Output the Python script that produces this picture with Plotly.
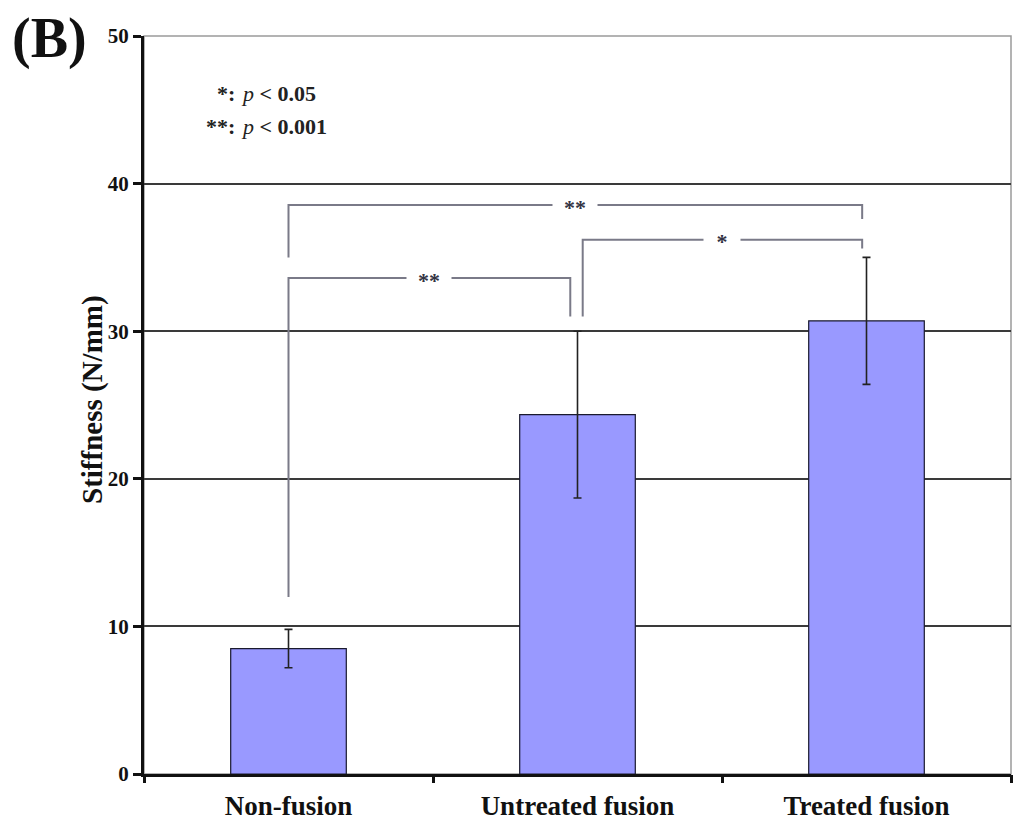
import plotly.graph_objects as go

categories = ["Non-fusion", "Untreated fusion", "Treated fusion"]
means = [8.5, 24.35, 30.7]
errors = [1.3, 5.65, 4.3]
y_ticks = [0, 10, 20, 30, 40, 50]

# significance brackets: (x_left, x_right, y_top, y_left_bottom, y_right_bottom, label)
brackets = [
    (0.0, 0.975, 33.6, 12.0, 31.0, "**"),
    (1.018, 1.985, 36.2, 31.0, 35.6, "*"),
    (0.0, 1.985, 38.55, 35.0, 37.6, "**"),
]

FONT = "Liberation Serif, Times New Roman, serif"
OFF = 8  # page body margin
W, H = 1023 - OFF, 822 - OFF
L, R, T, B = 144 - OFF, 12, 36 - OFF, 48
PW, PH = W - L - R, H - T - B


def px_x(px):  # screenshot pixel -> paper x
    return (px - OFF - L) / PW


def px_y(py):  # screenshot pixel -> paper y
    return (H - B - (py - OFF)) / PH


fig = go.Figure()
fig.add_trace(go.Bar(
    x=list(range(len(categories))), y=means, width=0.4,
    marker=dict(color="#9999FF", line=dict(color="#1a1a2e", width=1.2)),
    error_y=dict(type="data", array=errors, visible=True, color="#222222",
                 thickness=1.6, width=4),
    showlegend=False,
))

shapes = []
shapes.append(dict(type="rect", xref="paper", yref="paper", x0=0, x1=1, y0=0, y1=1,
                   line=dict(color="#9a9a9a", width=1.5), layer="below"))
annotations = []
for (xl, xr, yt, ylb, yrb, lab) in brackets:
    path = f"M {xl},{ylb} L {xl},{yt} L {xr},{yt} L {xr},{yrb}"
    shapes.append(dict(type="path", xref="x", yref="y", path=path,
                       line=dict(color="#7a7a88", width=2)))
    annotations.append(dict(x=(xl + xr) / 2, y=yt, xref="x", yref="y",
                            text=f"<b>{lab}</b>", yshift=-2, yanchor="middle",
                            showarrow=False, bgcolor="white", borderpad=0,
                            width=44 if len(lab) == 2 else 36,
                            font=dict(family=FONT, size=22, color="#333344")))

legend_font = dict(family=FONT, size=22, color="#222222")
annotations += [
    dict(x=px_x(237), y=px_y(93), xref="paper", yref="paper", yanchor="middle",
         text="<b>*:</b>", xanchor="right", showarrow=False, font=legend_font),
    dict(x=px_x(239), y=px_y(93), xref="paper", yref="paper", yanchor="middle",
         text="<i>p</i><b> &lt; 0.05</b>", xanchor="left", showarrow=False, font=legend_font),
    dict(x=px_x(237), y=px_y(126), xref="paper", yref="paper", yanchor="middle",
         text="<b>**:</b>", xanchor="right", showarrow=False, font=legend_font),
    dict(x=px_x(239), y=px_y(126), xref="paper", yref="paper", yanchor="middle",
         text="<i>p</i><b> &lt; 0.001</b>", xanchor="left", showarrow=False, font=legend_font),
    dict(x=px_x(10), y=px_y(38), xref="paper", yref="paper", yanchor="middle",
         text="<b>(B)</b>", xanchor="left", showarrow=False,
         font=dict(family=FONT, size=56, color="#111111")),
    dict(x=px_x(92), y=px_y(400), xref="paper", yref="paper", yanchor="middle",
         xanchor="center", text="<b>Stiffness (N/mm)</b>", textangle=-90, showarrow=False,
         font=dict(family=FONT, size=29, color="#111111")),
]

fig.update_layout(
    width=W, height=H, margin=dict(l=L, r=R, t=T, b=B, autoexpand=False),
    plot_bgcolor="white", paper_bgcolor="white",
    shapes=shapes, annotations=annotations,
    font=dict(family=FONT, color="#111111"),
    xaxis=dict(
        tickmode="array", tickvals=list(range(len(categories))),
        ticktext=[f"<b>{c}</b>" for c in categories],
        range=[-0.5, 2.5], showgrid=False, zeroline=False,
        showline=True, linecolor="#111111", linewidth=3,
        ticks="outside", ticklen=6, tickcolor="rgba(0,0,0,0)",
        tickfont=dict(family=FONT, size=27, color="#111111"),
    ),
    yaxis=dict(
        range=[0, 50], tickvals=y_ticks, ticktext=[f"<b>{v}</b>" for v in y_ticks],
        showgrid=True, gridcolor="#3a3a3a", gridwidth=1.5, zeroline=False,
        showline=True, linecolor="#111111", linewidth=3,
        ticks="outside", ticklen=8, tickwidth=3, tickcolor="#111111",
        tickfont=dict(family=FONT, size=21, color="#111111"),
    ),
)

fig.add_trace(go.Scatter(x=categories, y=[None] * 3, xaxis="x2", showlegend=False,
                         hoverinfo="skip"))
fig.update_layout(xaxis2=dict(
    overlaying="x", type="category", tickson="boundaries", ticks="outside",
    ticklen=8, tickwidth=3, tickcolor="#111111", showticklabels=False,
    showgrid=False, zeroline=False, showline=False, range=[-0.5, 2.5],
    side="bottom", anchor="y",
))

fig.write_html("out.html")
